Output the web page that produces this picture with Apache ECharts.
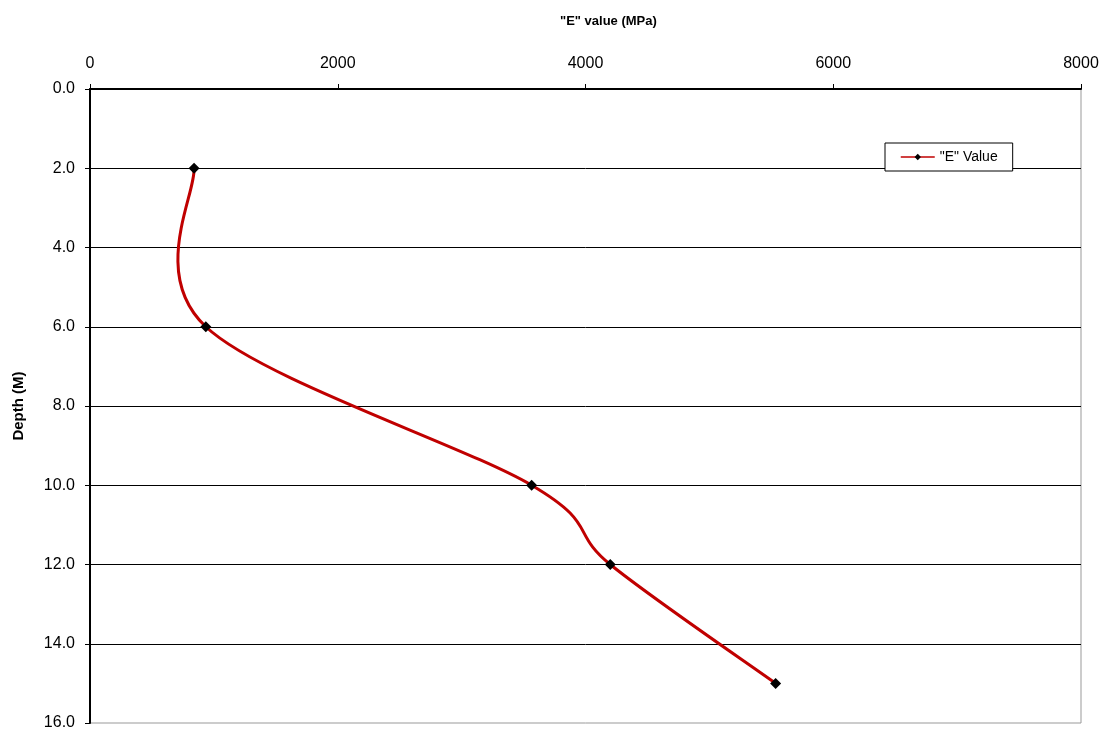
<!DOCTYPE html>
<html>
<head>
<meta charset="utf-8">
<script src="https://cdn.jsdelivr.net/npm/echarts@6/dist/echarts.min.js"></script>
<style>
  html, body { margin: 0; padding: 0; background: #fff; }
  #chart { width: 1106px; height: 736px; }
</style>
</head>
<body>
<div id="chart"></div>
<script>
// E value (MPa) against depth (M)
const eValues = [840, 935, 3565, 4200, 5535]
const depths = [2, 6, 10, 12, 15]
const xTicks = [0, 8000, 2000]   // min, max, interval
const yTicks = [0, 16, 2]

const chart = echarts.init(document.getElementById('chart'))
const font = 'Liberation Sans, Arial, sans-serif'
const lineColor = '#c00000'

// excel style smoothed line, control points from neighbours (1/6)
function renderCurve(params, api) {
  if (params.dataIndex !== 0) return null
  const pts = eValues.map((v, i) => api.coord([v, depths[i]]))
  const n = pts.length
  const children = []
  for (let i = 0; i < n - 1; i++) {
    const p0 = pts[Math.max(i - 1, 0)]
    const p1 = pts[i]
    const p2 = pts[i + 1]
    const p3 = pts[Math.min(i + 2, n - 1)]
    children.push({
      type: 'bezierCurve',
      shape: {
        x1: p1[0], y1: p1[1],
        x2: p2[0], y2: p2[1],
        cpx1: p1[0] + (p2[0] - p0[0]) / 6,
        cpy1: p1[1] + (p2[1] - p0[1]) / 6,
        cpx2: p2[0] - (p3[0] - p1[0]) / 6,
        cpy2: p2[1] - (p3[1] - p1[1]) / 6
      },
      style: { stroke: lineColor, lineWidth: 3, fill: null, lineCap: 'round' }
    })
  }
  return { type: 'group', children: children }
}

const option = {
  backgroundColor: '#fff',
  animation: false,
  title: {
    text: '"E" value (MPa)',
    left: 555,
    top: 10,
    textStyle: { fontFamily: font, fontSize: 13, fontWeight: 'bold', color: '#000' }
  },
  legend: {
    data: [{
      name: '"E" Value',
      lineStyle: { color: lineColor, width: 1.5, opacity: 1 },
      itemStyle: { color: '#000' }
    }],
    left: 885,
    top: 143,
    orient: 'vertical',
    backgroundColor: '#fff',
    borderColor: '#000',
    borderWidth: 1,
    borderRadius: 0,
    padding: [7, 15, 7, 15],
    itemWidth: 34,
    itemHeight: 8,
    itemGap: 0,
    textStyle: { fontFamily: font, fontSize: 14, color: '#000' }
  },
  grid: {
    left: 90,
    top: 89,
    right: 25,
    bottom: 13,
    show: true,
    borderColor: '#999',
    borderWidth: 1
  },
  xAxis: {
    type: 'value',
    position: 'top',
    min: xTicks[0],
    max: xTicks[1],
    interval: xTicks[2],
    axisLine: { show: true, lineStyle: { color: '#000', width: 2 } },
    axisTick: { show: true, length: 5, lineStyle: { color: '#000' } },
    axisLabel: {
      color: '#000', fontFamily: font, fontSize: 16, margin: 17,
      formatter: v => String(v)
    },
    splitLine: { show: false }
  },
  yAxis: {
    type: 'value',
    inverse: true,
    min: yTicks[0],
    max: yTicks[1],
    interval: yTicks[2],
    name: 'Depth (M)',
    nameLocation: 'middle',
    nameGap: 64,
    nameTextStyle: { fontFamily: font, fontSize: 15, fontWeight: 'bold', color: '#000' },
    axisLine: { show: true, lineStyle: { color: '#000', width: 2 } },
    axisTick: { show: true, length: 5, lineStyle: { color: '#000' } },
    axisLabel: {
      color: '#000',
      fontFamily: font,
      fontSize: 16,
      margin: 15,
      formatter: v => v.toFixed(1)
    },
    splitLine: {
      show: true,
      showMinLine: false,
      showMaxLine: false,
      lineStyle: { color: '#000', width: 1 }
    }
  },
  series: [
    {
      name: 'curve',
      type: 'custom',
      data: eValues.map((v, i) => [v, depths[i]]),
      renderItem: renderCurve,
      clip: true,
      z: 2
    },
    {
      name: '"E" Value',
      type: 'line',
      data: eValues.map((v, i) => [v, depths[i]]),
      symbol: 'diamond',
      symbolSize: 11,
      itemStyle: { color: '#000' },
      lineStyle: { opacity: 0 },
      z: 3
    }
  ]
}
chart.setOption(option)
</script>
</body>
</html>
